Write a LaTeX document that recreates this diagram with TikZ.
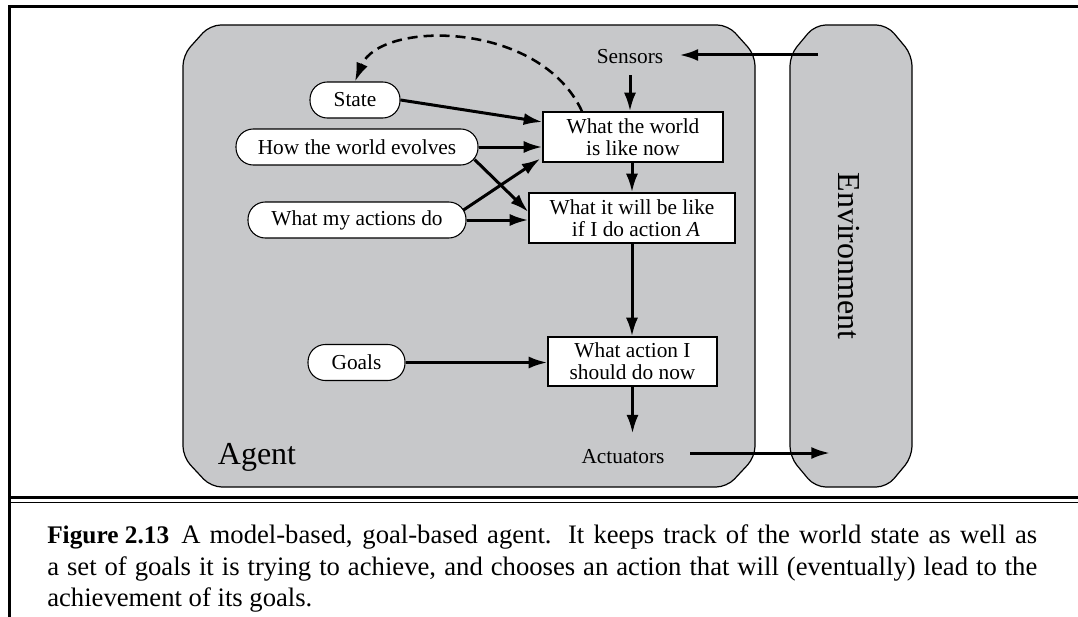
\documentclass[tikz,border=0pt]{standalone}
\usepackage{fontspec}
\setmainfont{Liberation Serif}
\usetikzlibrary{arrows.meta}
\definecolor{agentgray}{RGB}{199,200,202}
\begin{document}
\begin{tikzpicture}[x=0.75pt,y=-0.75pt,
  arr/.style={line width=2.25pt,-{Latex[length=14pt,width=9pt]}},
  dasharr/.style={line width=1.9pt,dash pattern=on 7.5pt off 4.5pt,-{Latex[length=14pt,width=9pt]}},
  pill/.style={draw,fill=white,line width=0.8pt,rounded corners=13pt,minimum height=27pt,inner sep=0pt,font=\fontsize{16}{18}\selectfont},
  infobox/.style={draw,fill=white,line width=0.9pt,inner sep=0pt,align=center,font=\fontsize{16}{16.5}\selectfont},
  lbl/.style={inner sep=0pt,font=\fontsize{16}{18}\selectfont},
  region/.style={draw,fill=agentgray,line width=0.9pt,rounded corners=8pt},
  captext/.style={anchor=base west,inner sep=0pt,font=\fontsize{20}{24}\selectfont}]
\useasboundingbox (0,0) rectangle (1078,617);
% frame
\draw[line width=2.25pt] (8,7) -- (1078,7);
\draw[line width=2.25pt] (9,6) -- (9,617);
\draw[line width=2.25pt] (9,497.5) -- (1078,497.5);
\draw[line width=1.2pt] (9,502.5) -- (1078,502.5);
% regions
\draw[region] (183,55) -- (183,457) -- (211,487) -- (727,487) -- (755,457) -- (755,55) -- (728,25) -- (210,25) -- cycle;
\draw[region] (790,55) -- (790,457) -- (815,487) -- (887,487) -- (912,457) -- (912,55) -- (887,25) -- (815,25) -- cycle;
\node[inner sep=0pt,font=\fontsize{24}{28}\selectfont] (agent) at (257,457) {Agent};
\node[inner sep=0pt,font=\fontsize{24}{28}\selectfont,rotate=-90] (env) at (849,256) {Environment};
% labels
\node[lbl] (sensors) at (630,57) {Sensors};
\node[lbl] (actuators) at (623,457) {Actuators};
\coordinate (envout) at (818,55);
\coordinate (envin) at (830,453);
% boxes
\node[infobox,minimum width=135pt,minimum height=37.5pt] (now) at (633,137) {What the world\\is like now};
\node[infobox,minimum width=154.5pt,minimum height=37.5pt] (will) at (632,218) {What it will be like\\\hspace*{6pt}if I do action \textit{A}};
\node[infobox,minimum width=126.75pt,minimum height=36.75pt] (act) at (632.5,361.5) {What action I\\should do now};
% pills
\node[pill,minimum width=67.5pt] (state) at (355,100) {State};
\node[pill,minimum width=181.5pt] (evolves) at (357,147) {How the world evolves};
\node[pill,minimum width=163.5pt] (actions) at (357,220) {What my actions do};
\node[pill,minimum width=72.75pt] (goals) at (356.5,362.5) {Goals};
% arrows
\draw[arr] (envout) -- ([xshift=12pt]sensors.east |- envout);
\draw[arr] ([yshift=-8pt]sensors.south) -- (sensors.south |- now.north);
\draw[arr] (state.east) -- ([yshift=11.25pt]now.west);
\draw[arr] (evolves.east) -- (evolves.east -| now.west);
\draw[arr] ([xshift=-3pt,yshift=4.5pt]evolves.south east) -- ([yshift=4.5pt]will.west);
\draw[arr] ([xshift=-2.25pt,yshift=7.5pt]actions.east) -- ([xshift=-1.5pt,yshift=3pt]now.south west);
\draw[arr] (actions.east) -- (actions.east -| will.west);
\draw[arr] (now.south -| will.north) -- (will.north);
\draw[arr] (will.south) -- (will.south |- act.north);
\draw[arr] (goals.east) -- (goals.east -| act.west);
\draw[arr] (act.south) -- ([yshift=12pt]act.south |- actuators.north);
\draw[arr] ([xshift=19pt]actuators.east |- envin) -- (envin);
\draw[dasharr] ([xshift=-38.25pt]now.north) .. controls (540,20) and (380,20) .. (state.north);
% caption
\node[captext,font=\fontsize{19}{24}\selectfont\bfseries] (fig) at (47,543) {Figure 2.13};
\node[captext] (cap1) at (181,543) {\makebox[642pt][s]{A model-based, goal-based agent. It keeps track of the world state as well as}};
\node[captext] (cap2) at (47,575) {\makebox[742.5pt][s]{a set of goals it is trying to achieve, and chooses an action that will (eventually) lead to the}};
\node[captext] (cap3) at (47,606) {achievement of its goals.};
\end{tikzpicture}
\end{document}
